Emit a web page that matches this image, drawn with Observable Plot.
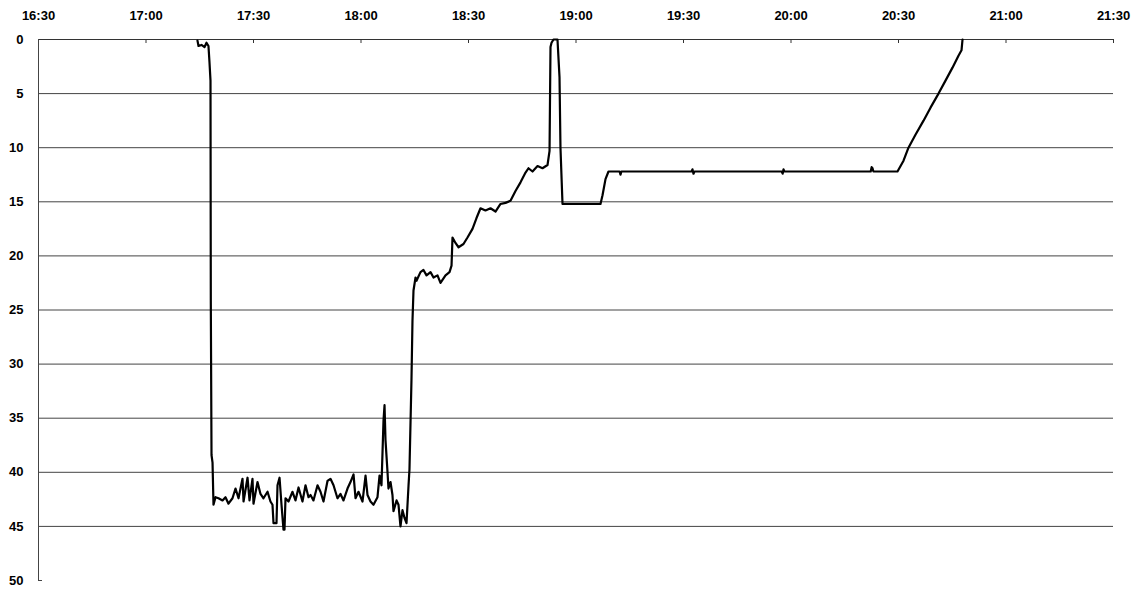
<!DOCTYPE html>
<html><head><meta charset="utf-8">
<script src="https://cdn.jsdelivr.net/npm/d3@7"></script>
<script src="https://cdn.jsdelivr.net/npm/@observablehq/plot@0.6"></script>
<style>html,body{margin:0;padding:0;background:#fff} svg{display:block}</style>
</head><body><div id="chart"></div>
<script>
// Dive profile: clock time and depth (m)
const times = [
  "17:14:22","17:14:39","17:15:29","17:16:20","17:16:53","17:17:26","17:17:43","17:18:00","17:18:05","17:18:17","17:18:34","17:18:50",
  "17:19:24","17:20:14","17:21:21","17:22:11","17:23:01","17:24:08","17:24:59","17:25:49","17:26:56","17:27:13","17:28:20","17:28:53",
  "17:29:43","17:30:00","17:31:07","17:31:57","17:32:47","17:33:55","17:34:44","17:35:18","17:35:35","17:36:25","17:36:42","17:37:16",
  "17:37:49","17:38:22","17:38:39","17:38:56","17:39:46","17:40:53","17:41:43","17:42:34","17:43:40","17:44:31","17:45:21","17:45:55",
  "17:46:44","17:47:52","17:48:42","17:49:32","17:50:39","17:51:29","17:52:20","17:53:26","17:54:17","17:55:07","17:56:14","17:57:04",
  "17:57:55","17:58:28","17:59:18","18:00:25","18:01:16","18:01:49","18:02:39","18:03:29","18:04:36","18:05:10","18:05:43","18:06:17",
  "18:06:34","18:06:50","18:07:24","18:07:40","18:08:14","18:08:47","18:09:04","18:09:55","18:10:28","18:11:01","18:11:35","18:12:08",
  "18:12:42","18:13:16","18:13:32","18:14:05","18:14:22","18:14:39","18:15:13","18:15:29","18:16:36","18:17:26","18:18:17","18:19:24",
  "18:20:14","18:21:21","18:22:11","18:23:35","18:24:42","18:25:16","18:25:32","18:26:22","18:27:13","18:28:36","18:29:43","18:31:07",
  "18:32:14","18:33:21","18:34:44","18:36:08","18:37:32","18:38:56","18:40:20","18:41:43","18:43:07","18:44:31","18:45:55","18:46:44",
  "18:47:52","18:49:16","18:50:39","18:52:03","18:52:37","18:52:53","18:53:10","18:53:43","18:54:50","18:55:24","18:55:40","18:56:14",
  "19:06:50","19:07:24","19:08:14","19:09:04","19:12:10","19:12:25","19:12:40","19:32:15","19:32:30","19:32:47","19:33:04","19:57:25",
  "19:57:40","19:57:55","19:58:10","20:22:15","20:22:30","20:22:45","20:23:00","20:29:43","20:31:24","20:32:47","20:34:44","20:36:59",
  "20:38:56","20:41:10","20:43:07","20:45:04","20:46:44","20:47:35","20:47:52"
];
const depths = [
  0.1,0.6,0.5,0.7,0.3,0.6,2.1,3.8,24.1,38.4,39.1,43.0,
  42.3,42.4,42.6,42.3,42.9,42.4,41.5,42.4,40.6,42.7,40.5,42.6,
  40.6,42.9,40.9,42.0,42.4,41.8,42.7,43.0,44.7,44.7,41.2,40.5,
  43.0,45.3,45.3,42.4,42.7,41.8,42.6,41.4,42.7,41.2,42.3,42.1,
  42.6,41.2,41.8,42.7,40.8,40.6,41.2,42.4,42.0,42.6,41.5,40.9,
  40.2,42.4,41.8,42.7,40.3,42.1,42.7,43.0,42.3,40.3,41.2,35.2,
  33.8,37.0,40.0,41.5,40.9,42.1,43.6,42.6,43.0,45.0,43.5,44.2,
  44.7,41.2,39.7,31.5,26.0,23.2,22.0,22.3,21.5,21.3,21.8,21.5,
  22.0,21.8,22.5,21.8,21.5,20.9,18.3,18.8,19.2,18.9,18.3,17.5,
  16.5,15.6,15.8,15.6,15.9,15.2,15.1,14.9,14.0,13.2,12.3,11.9,
  12.2,11.7,11.9,11.6,10.3,0.7,0.3,0.0,0.0,3.5,10.0,15.2,
  15.2,14.4,12.9,12.2,12.2,12.5,12.2,12.2,12.0,12.4,12.2,12.2,
  12.4,12.0,12.2,12.2,11.8,11.9,12.2,12.2,11.2,10.0,8.8,7.5,
  6.3,5.0,3.8,2.6,1.5,1.0,0.0
];
const xTickLabels = ["16:30","17:00","17:30","18:00","18:30","19:00","19:30","20:00","20:30","21:00","21:30"];
const yTickValues = [0,5,10,15,20,25,30,35,40,45,50];

const parseT = s => new Date(`2000-01-01T${s.length === 5 ? s + ":00" : s}Z`);
const data = times.map((t, i) => ({time: parseT(t), depth: depths[i]}));
const xTicks = xTickLabels.map(parseT);

const chart = Plot.plot({
  width: 1142, height: 593,
  marginLeft: 38, marginRight: 29, marginTop: 39, marginBottom: 13,
  style: {fontFamily: "'Liberation Sans', Arial, sans-serif", fontSize: "13px", fontWeight: "bold", color: "#000", background: "#fff"},
  x: {type: "utc", domain: [xTicks[0], xTicks[xTicks.length - 1]]},
  y: {domain: [0, 50], reverse: true},
  marks: [
    Plot.ruleY(yTickValues.slice(1, -1), {stroke: "#444", strokeWidth: 1}),
    Plot.ruleY([0], {stroke: "#333", strokeWidth: 1}),
    Plot.ruleX([xTicks[0]], {stroke: "#444", strokeWidth: 1}),
    Plot.ruleX(xTicks.slice(1), {stroke: "#333", strokeWidth: 1, insetBottom: 537}),
    Plot.ruleY([50], {stroke: "#444", strokeWidth: 1, insetRight: 1071}),
    Plot.axisX({anchor: "top", ticks: xTicks, tickFormat: d3.utcFormat("%H:%M"), tickSize: 0, tickPadding: 20, label: null, fontWeight: "bold", fontSize: 13}),
    Plot.axisY({anchor: "left", ticks: yTickValues, tickSize: 0, tickPadding: 15, label: null, fontWeight: "bold", fontSize: 13}),
    Plot.line(data, {x: "time", y: "depth", stroke: "#000", strokeWidth: 2.2})
  ]
});
document.getElementById("chart").append(chart);
</script>
</body></html>
